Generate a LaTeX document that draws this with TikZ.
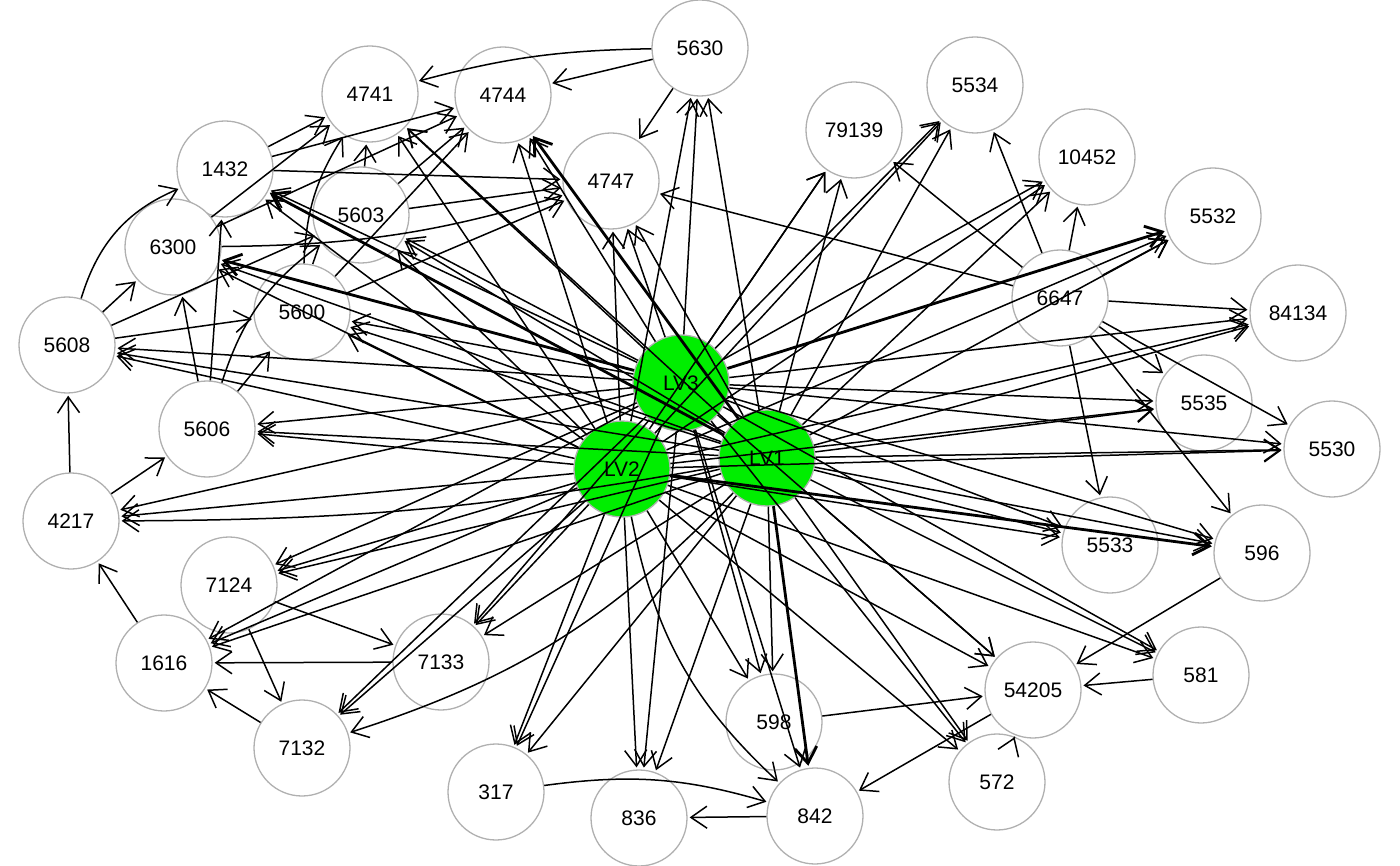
\documentclass[tikz,border=0pt]{standalone}
\usepackage{fontspec}
\setmainfont{Liberation Sans}
\usetikzlibrary{arrows.meta}
\definecolor{lvgreen}{HTML}{00EE00}
\definecolor{vgrey}{HTML}{B0B0B0}
\tikzset{
  vtx/.style={circle, draw=vgrey, line width=1.3pt, fill=white, minimum size=96pt, inner sep=0pt, font=\fontsize{21}{23}\selectfont},
  lvn/.style={vtx, fill=lvgreen},
  edge/.style={-{Straight Barb[length=16pt,width=22pt]}, line width=1.5pt, black, shorten >=2pt},
  thk/.style={edge, line width=2.8pt}
}
\begin{document}
\begin{tikzpicture}[x=1pt,y=-1pt]
\useasboundingbox (0,0) rectangle (1400,866);
% outer vertices
\node[vtx] (n5630) at (700,48) {5630};
\node[vtx] (n4741) at (370,94) {4741};
\node[vtx] (n4744) at (503,95) {4744};
\node[vtx] (n5534) at (975,85) {5534};
\node[vtx] (n79139) at (854,130) {79139};
\node[vtx] (n10452) at (1087,157) {10452};
\node[vtx] (n1432) at (225,169) {1432};
\node[vtx] (n4747) at (611,181) {4747};
\node[vtx] (n5603) at (361,215) {5603};
\node[vtx] (n5532) at (1213,216) {5532};
\node[vtx] (n6300) at (173,247) {6300};
\node[vtx] (n6647) at (1060,298) {6647};
\node[vtx] (n5600) at (302,312) {5600};
\node[vtx] (n84134) at (1298,313) {84134};
\node[vtx] (n5608) at (67,345) {5608};
\node[vtx] (n5535) at (1204,403) {5535};
\node[vtx] (n5606) at (207,429) {5606};
\node[vtx] (n5530) at (1332,449) {5530};
\node[vtx] (n4217) at (71,521) {4217};
\node[vtx] (n5533) at (1110,545) {5533};
\node[vtx] (n596) at (1262,553) {596};
\node[vtx] (n7124) at (229,585) {7124};
\node[vtx] (n1616) at (164,663) {1616};
\node[vtx] (n7133) at (441,662) {7133};
\node[vtx] (n581) at (1201,675) {581};
\node[vtx] (n54205) at (1033,690) {54205};
\node[vtx] (n598) at (774,722) {598};
\node[vtx] (n7132) at (302,748) {7132};
\node[vtx] (n572) at (997,782) {572};
\node[vtx] (n317) at (496,792) {317};
\node[vtx] (n842) at (815,816) {842};
\node[vtx] (n836) at (639,818) {836};
% latent variables
\node[lvn] (LV3) at (681,383) {LV3};
\node[lvn] (LV2) at (622,469) {LV2};
\node[lvn] (LV1) at (767,458) {LV1};
% edges from latent variables
\foreach \t in {5630,4741,5534,79139,10452,4747,5603,5532,6300,5600,84134,5608,5535,5606,5530,5533,596,7124,1616,7133,581,54205,598,572,317,836}
  \draw[edge] (LV1) -- (n\t);
\foreach \t in {5630,4741,4744,5534,79139,10452,1432,4747,5603,5532,6300,5600,84134,5608,5535,5606,5530,4217,5533,7124,1616,7133,581,54205,598,7132,572,317,836}
  \draw[edge] (LV2) -- (n\t);
\foreach \t in {5630,4741,4744,5534,79139,10452,1432,4747,5603,5600,84134,5608,5535,5606,5530,4217,5533,596,7124,1616,7133,581,54205,598,7132,572,317,842,836}
  \draw[edge] (LV3) -- (n\t);
\draw[edge] (LV1) to[bend left=14] (n7132);
\draw[edge] (LV1) to[bend left=5] (n4217);
\draw[edge] (LV2) to[bend right=18] (n842);
\draw[thk] (LV1) -- (n1432);
\draw[thk] (LV1) -- (n842);
\draw[thk] (LV1) -- (n4744);
\draw[thk] (LV2) -- (n596);
\draw[thk] (LV3) -- (n6300);
\draw[thk] (LV3) -- (n5532);
% edges among observed variables
\draw[edge] (n5630) to[bend right=7] (n4741);
\draw[edge] (n5630) -- (n4744);
\draw[edge] (n5630) -- (n4747);
\draw[edge] (n1432) -- (n4741);
\draw[edge] (n1432) -- (n4744);
\draw[edge] (n1432) -- (n4747);
\draw[edge] (n6300) -- (n4741);
\draw[edge] (n6300) -- (n4744);
\draw[edge] (n6300) to[bend right=8] (n4747);
\draw[edge] (n5603) -- (n4741);
\draw[edge] (n5603) -- (n4744);
\draw[edge] (n5603) -- (n4747);
\draw[edge] (n5600) to[bend left=15] (n4741);
\draw[edge] (n5600) -- (n4744);
\draw[edge] (n5600) -- (n4747);
\draw[edge] (n5608) to[bend left=25] (n1432);
\draw[edge] (n5608) -- (n6300);
\draw[edge] (n5608) -- (n5603);
\draw[edge] (n5608) -- (n5600);
\draw[edge] (n5606) -- (n6300);
\draw[edge] (n5606) -- (n1432);
\draw[edge] (n5606) to[bend left=18] (n5603);
\draw[edge] (n5606) -- (n5600);
\draw[edge] (n4217) -- (n5608);
\draw[edge] (n4217) -- (n5606);
\draw[edge] (n1616) -- (n4217);
\draw[edge] (n7132) -- (n1616);
\draw[edge] (n7133) -- (n1616);
\draw[edge] (n7124) -- (n7133);
\draw[edge] (n7124) -- (n7132);
\draw[edge] (n6647) -- (n4747);
\draw[edge] (n6647) -- (n79139);
\draw[edge] (n6647) -- (n5534);
\draw[edge] (n6647) -- (n10452);
\draw[edge] (n6647) -- (n5532);
\draw[edge] (n6647) -- (n84134);
\draw[edge] (n6647) -- (n5535);
\draw[edge] (n6647) -- (n5530);
\draw[edge] (n6647) -- (n5533);
\draw[edge] (n6647) -- (n596);
\draw[edge] (n596) -- (n54205);
\draw[edge] (n581) -- (n54205);
\draw[edge] (n598) -- (n54205);
\draw[edge] (n572) -- (n54205);
\draw[edge] (n54205) -- (n842);
\draw[edge] (n842) -- (n836);
\draw[edge] (n317) to[bend left=12] (n842);
\end{tikzpicture}
\end{document}
